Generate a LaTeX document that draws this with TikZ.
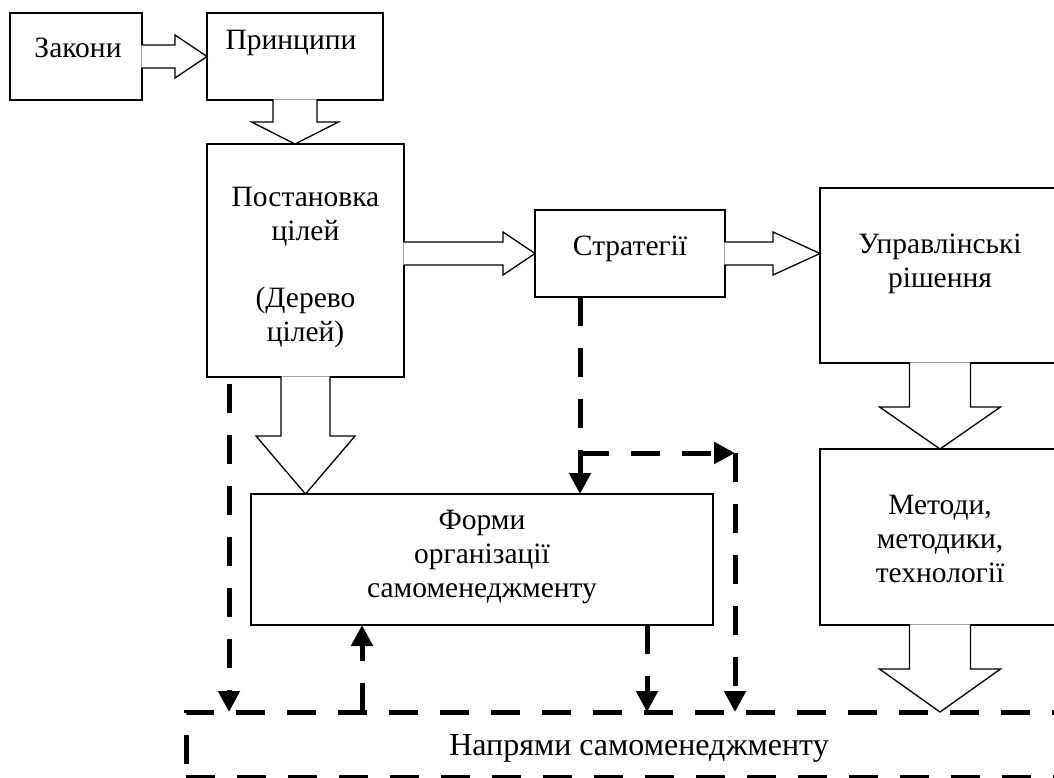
\documentclass[tikz,border=0pt]{standalone}
\usepackage{fontspec}
\setmainfont{Liberation Serif}
\usetikzlibrary{positioning,arrows.meta,calc}
\tikzset{
  box/.style   = {draw, line width=1.3pt, inner sep=0pt, outer sep=0pt},
  txt/.style   = {font=\fontsize{29.5pt}{34pt}\selectfont, align=center,
                  inner sep=0pt, anchor=base},
  fat/.style   = {draw, fill=white, line width=1.3pt, line join=miter},
  dline/.style = {line width=5pt, dash pattern=on 29pt off 22pt},
  dtip/.style  = {-{Triangle[length=21pt, width=21pt]}},
}
% hollow block arrows: #1 from, #2 tip, #3 half shaft, #4 half head, #5 head length
\newcommand{\fatright}[5]{%
  \draw[fat] let \p1=(#1), \p2=(#2) in
    (\x1-0.7pt,\y2+#3) -- (\x2-#5,\y2+#3) -- (\x2-#5,\y2+#4) -- (\x2,\y2)
    -- (\x2-#5,\y2-#4) -- (\x2-#5,\y2-#3) -- (\x1-0.7pt,\y2-#3);}
\newcommand{\fatdown}[5]{%
  \draw[fat] let \p1=(#1), \p2=(#2) in
    (\x2-#3,\y1+0.7pt) -- (\x2-#3,\y2+#5) -- (\x2-#4,\y2+#5) -- (\x2,\y2)
    -- (\x2+#4,\y2+#5) -- (\x2+#3,\y2+#5) -- (\x2+#3,\y1+0.7pt);}

\begin{document}
\begin{tikzpicture}[x=1pt, y=1pt]
\useasboundingbox (0,0) rectangle (1054,-778);
\clip (0,0) rectangle (1054,-778);

% ---- boxes ----
\node[box, minimum width=132pt, minimum height=87pt]  (zak)   at (76,-56.5)   {};
\node[box, minimum width=176pt, minimum height=87pt]  (princ) at (295,-56.5)  {};
\node[box, minimum width=197pt, minimum height=233pt] (post)  at (305.5,-260.5) {};
\node[box, minimum width=190pt, minimum height=87pt]  (strat) at (630,-253.5)  {};
\node[box, minimum width=240pt, minimum height=175pt] (uprav) at (940,-275.5)  {};
\node[box, minimum width=240pt, minimum height=176pt] (metod) at (940,-537)    {};
\node[box, minimum width=462pt, minimum height=131pt] (forms) at (482,-559.5)  {};
\node[inner sep=0pt, outer sep=0pt, minimum width=906pt, minimum height=65pt]
  (napr) at (639,-744.5) {};

% ---- texts (anchored on the last baseline) ----
\node[txt] (zakT)   at (78,-58)   {Закони};
\node[txt] (princT) at (291,-50)  {Принципи};
\node[txt] (postT)  at (305.5,-341) {Постановка\\цілей\\[33pt](Дерево\\цілей)};
\node[txt] (stratT) at (630,-255) {Стратегії};
\node[txt] (upravT) at (940,-287) {Управлінські\\рішення};
\node[txt] (metodT) at (940,-582) {Методи,\\методики,\\технології};
\node[txt] (formsT) at (482,-597) {Форми\\організації\\самоменеджменту};
\node[txt, font=\fontsize{32pt}{34pt}\selectfont] (naprT) at (639,-755) {Напрями самоменеджменту};

% ---- hollow arrows ----
\fatright{zak.east}{princ.west}{11.5pt}{21.5pt}{32pt}
\fatright{post.east}{strat.west}{11.5pt}{21.5pt}{32pt}
\fatright{strat.east}{uprav.west |- strat.east}{11.5pt}{21.5pt}{47pt}
\fatdown{princ.south}{princ.south |- post.north}{22pt}{43.5pt}{22pt}
\fatdown{post.south}{post.south |- forms.north}{24.5pt}{49.5pt}{58pt}
\fatdown{uprav.south}{metod.north}{30.5pt}{60.5pt}{42pt}
\fatdown{metod.south}{metod.south |- napr.north}{30.5pt}{60.5pt}{43pt}

% ---- dashed frame of the bottom block ----
\draw[dline, dash phase=38pt] (napr.south west) -- (napr.north west) -- (napr.north east);
\draw[dline] (napr.south west) -- (napr.south east);

% ---- dashed links ----
\coordinate (split) at (580,-453);
\coordinate (turn)  at (735,-453);
\draw[dline, dtip, dash phase=44pt] ([xshift=22pt]post.south west) -- ([xshift=43pt]napr.north west);
\draw[dline, dtip] ([xshift=176pt]napr.north west) -- ([xshift=111pt]forms.south west);
\draw[dline, dtip] ([xshift=396pt]forms.south west) -- ([xshift=461pt]napr.north west);
\draw[dline] ([xshift=45pt]strat.south west) -- (split);
\draw[dline, dtip] (split) -- ([xshift=329pt]forms.north west);
\draw[dline, dtip] (split) -- (turn);
\draw[dline, dtip] (turn) -- ([xshift=549pt]napr.north west);

\end{tikzpicture}
\end{document}
